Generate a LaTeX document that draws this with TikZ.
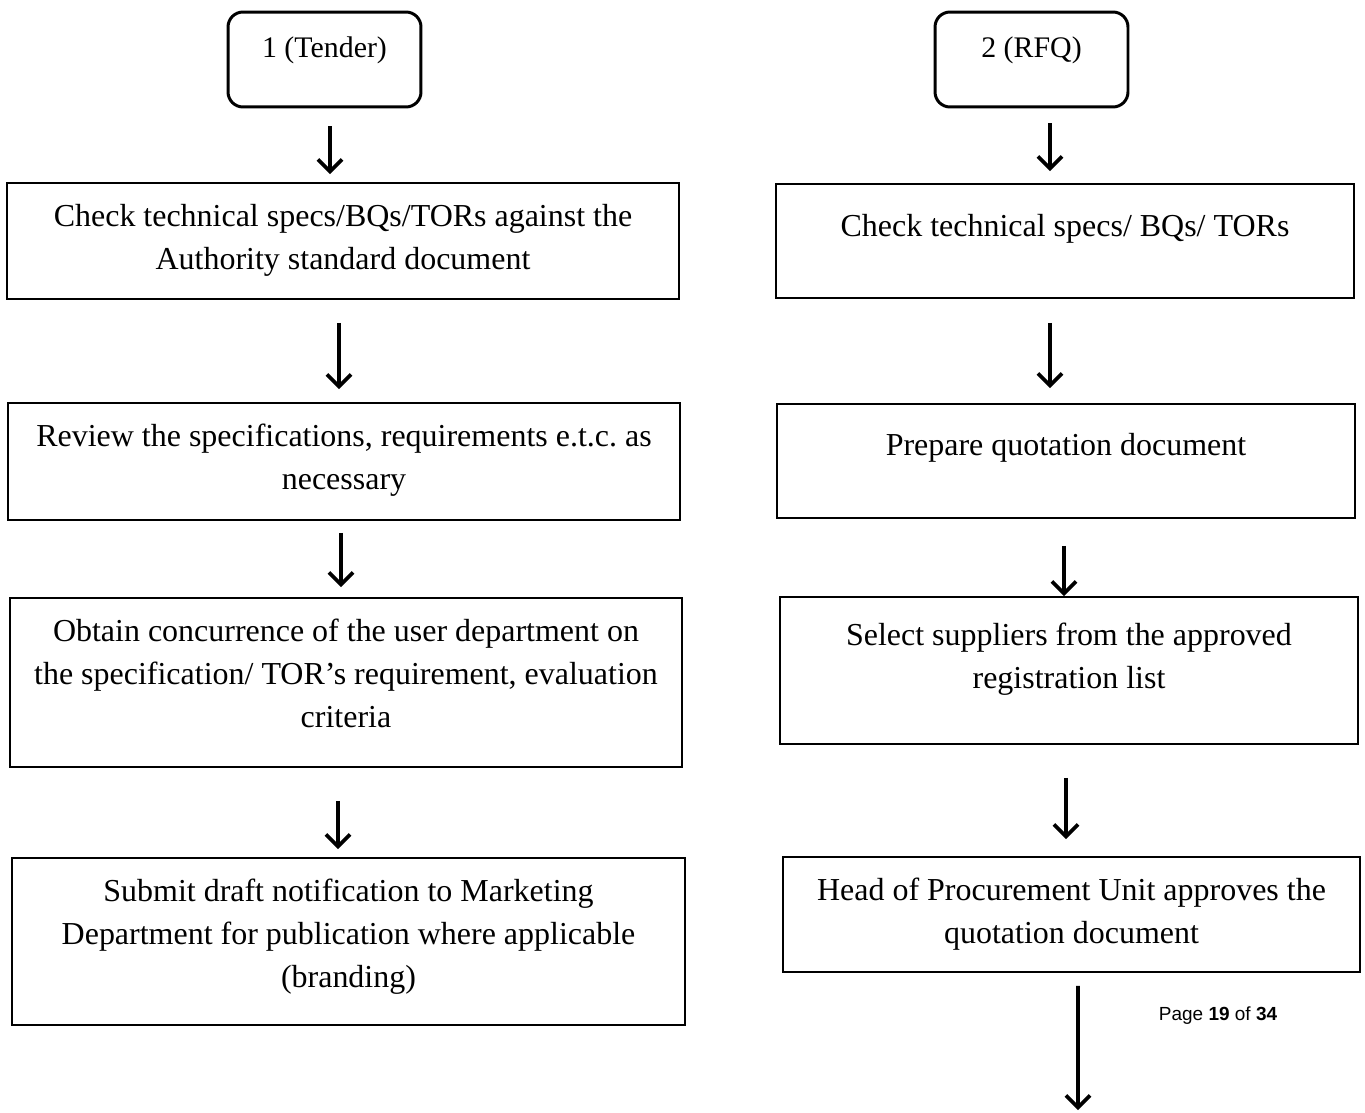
\documentclass[tikz,border=0pt]{standalone}
\usepackage{fontspec}
\setmainfont{Liberation Serif}
\newfontfamily\pagefont{Liberation Sans}
\usetikzlibrary{arrows.meta,positioning}
\frenchspacing
\tikzset{
  stepbox/.style n args={3}{draw,line width=1.1pt,inner sep=0pt,
    execute at begin node={\begin{minipage}[c][#2][t]{#1}\centering\vspace*{#3}},
    execute at end node={\end{minipage}}},
  startbox/.style={draw,line width=1.7pt,rounded corners=0.3cm,inner sep=0pt,
    font=\fontsize{17}{22}\selectfont,
    execute at begin node={\begin{minipage}[c][1.9cm][t]{3.86cm}\centering\vspace*{0.5cm}},
    execute at end node={\end{minipage}}},
  flow/.style={line width=2.1pt,-{Straight Barb[length=2.4mm,width=4.8mm]}},
}

\begin{document}
\begin{tikzpicture}[x=0.02cm,y=-0.02cm,font=\fontsize{18.2}{24.5}\selectfont]
  \useasboundingbox (0,0) rectangle (1365,1112);
  % tender column
  \node[startbox] (t1) at (324.5,59.5) {1 (Tender)};
  \node[stepbox={13.44cm}{2.32cm}{0.42cm}] (l1) at (343,241)
    {Check technical specs/BQs/TORs against the\\Authority standard document};
  \node[stepbox={13.44cm}{2.34cm}{0.42cm}] (l2) at (344,461.5)
    {Review the specifications, requirements e.t.c. as\\necessary};
  \node[stepbox={13.44cm}{3.38cm}{0.42cm}] (l3) at (346,682.5)
    {Obtain concurrence of the user department on\\the specification/ TOR’s requirement, evaluation\\criteria};
  \node[stepbox={13.46cm}{3.34cm}{0.42cm}] (l4) at (348.5,941.5)
    {Submit draft notification to Marketing\\Department for publication where applicable\\(branding)};
  % rfq column
  \node[startbox] (t2) at (1031.5,59.5) {2 (RFQ)};
  \node[stepbox={11.56cm}{2.28cm}{0.6cm}] (r1) at (1065,241)
    {Check technical specs/ BQs/ TORs};
  \node[stepbox={11.56cm}{2.28cm}{0.58cm}] (r2) at (1066,461)
    {Prepare quotation document};
  \node[stepbox={11.56cm}{2.94cm}{0.52cm}] (r3) at (1069,670.5)
    {Select suppliers from the approved\\registration list};
  \node[stepbox={11.54cm}{2.3cm}{0.42cm}] (r4) at (1071.5,914.5)
    {Head of Procurement Unit approves the\\quotation document};
  \coordinate (tail) at (1078,1110);
  \node[font=\pagefont\fontsize{10.8}{12}\selectfont] (page) at (1218,1016)
    {Page \textbf{19} of \textbf{34}};
  % arrows
  \draw[flow,shorten <=0.36cm,shorten >=0.16cm] ([xshift=0.11cm]t1.south) -- ([xshift=0.11cm]t1.south |- l1.north);
  \draw[flow,shorten <=0.46cm,shorten >=0.26cm] ([xshift=-0.08cm]l1.south) -- ([xshift=-0.08cm]l1.south |- l2.north);
  \draw[flow,shorten <=0.24cm,shorten >=0.2cm] ([xshift=-0.06cm]l2.south) -- ([xshift=-0.06cm]l2.south |- l3.north);
  \draw[flow,shorten <=0.66cm,shorten >=0.16cm] ([xshift=-0.16cm]l3.south) -- ([xshift=-0.16cm]l3.south |- l4.north);
  \draw[flow,shorten <=0.3cm,shorten >=0.24cm] ([xshift=0.37cm]t2.south) -- ([xshift=0.37cm]t2.south |- r1.north);
  \draw[flow,shorten <=0.48cm,shorten >=0.3cm] ([xshift=-0.3cm]r1.south) -- ([xshift=-0.3cm]r1.south |- r2.north);
  \draw[flow,shorten <=0.54cm] ([xshift=-0.04cm]r2.south) -- ([xshift=-0.04cm]r2.south |- r3.north);
  \draw[flow,shorten <=0.66cm,shorten >=0.34cm] ([xshift=-0.06cm]r3.south) -- ([xshift=-0.06cm]r3.south |- r4.north);
  \draw[flow,shorten <=0.26cm] ([xshift=0.13cm]r4.south) -- (tail);
\end{tikzpicture}
\end{document}
